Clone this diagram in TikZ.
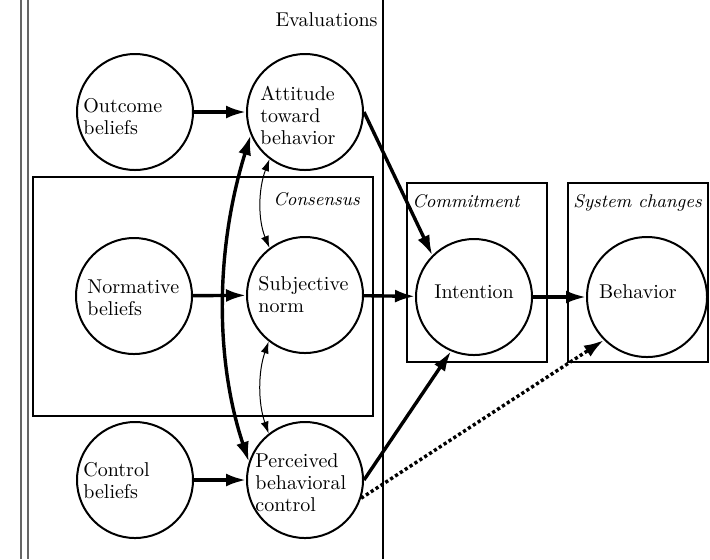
\documentclass[tikz,border=0pt]{standalone}
\usetikzlibrary{arrows.meta}
\begin{document}
\begin{tikzpicture}[x=0.5pt,y=-0.5pt,
  state/.style={circle,draw,line width=1pt,minimum size=58pt,inner sep=0pt},
  caption/.style={align=left,inner sep=0pt,font=\fontsize{10}{11}\selectfont},
  boxlabel/.style={inner sep=0pt,font=\fontsize{9.2}{11}\selectfont\itshape,anchor=base west},
  frame/.style={draw,line width=0.6pt},
  rule/.style={draw=black!60,line width=0.7pt},
  bigarrow/.style={line width=1.7pt,-{Latex[length=10pt,width=6.5pt]}},
  linkarrow/.style={line width=0.5pt,{Latex[length=6pt,width=4pt]}-{Latex[length=6pt,width=4pt]}},
  bothways/.style={line width=1.7pt,{Latex[length=10pt,width=6.5pt]}-{Latex[length=10pt,width=6.5pt]}},
  dottedarrow/.style={line width=1.7pt,dash pattern=on 1.6pt off 1.3pt,-{Latex[length=10pt,width=6.5pt]}}
]
\useasboundingbox (0,0) rectangle (710,559);

% outer rules and group frames
\draw[rule] (21,0) coordinate (l1a) -- (21,559) coordinate (l1b);
\draw[rule] (28,0) coordinate (l2a) -- (28,559) coordinate (l2b);
\draw[frame] (383,0) coordinate (evr) -- (383,559) coordinate (evrb);
\draw[frame] (33,177) rectangle (373,416);
\draw[frame] (407,183) rectangle (547,362);
\draw[frame] (568,183) rectangle (708,362);

% group labels
\node[inner sep=0pt,anchor=base east,font=\fontsize{10}{11}\selectfont] (evl) at (378,26) {Evaluations};
\node[boxlabel] (cons) at (273,205) {Consensus};
\node[boxlabel] (comm) at (412,207) {Commitment};
\node[boxlabel] (sysc) at (573,207) {System changes};

% constructs
\node[state] (out) at (135,112) {};
\node[state] (att) at (305,112) {};
\node[state] (nrm) at (134,296) {};
\node[state] (sub) at (305,295) {};
\node[state] (ctl) at (135,480) {};
\node[state] (per) at (305,480) {};
\node[state] (int) at (474,297) {};
\node[state,minimum size=60pt] (beh) at (647,297) {};

% construct captions
\node[caption,anchor=west] (outT) at (83,117) {Outcome\\beliefs};
\node[caption,anchor=west] (attT) at (260,115) {Attitude\\toward\\behavior};
\node[caption,anchor=west] (nrmT) at (87,298) {Normative\\beliefs};
\node[caption,anchor=west] (subT) at (258,295) {Subjective\\norm};
\node[caption,anchor=west] (ctlT) at (83,481) {Control\\beliefs};
\node[caption,anchor=west] (perT) at (255,483) {Perceived\\behavioral\\control};
\node[caption] (intT) at (474,292) {Intention};
\node[caption] (behT) at (638,292) {Behavior};

% influences
\draw[bigarrow] (out) -- (att);
\draw[bigarrow] (nrm) -- (sub);
\draw[bigarrow] (ctl) -- (per);
\draw[bigarrow] (sub) -- (int);
\draw[bigarrow] (int) -- (beh);
\draw[bigarrow] (att.east) -- (int.north west);
\draw[bigarrow] (per.east) -- (int.247);
\draw[dottedarrow] (per.-18) -- (beh.225);

% correlations among the evaluations
\draw[bothways] (att.203) .. controls (215,250) and (215,360) .. (per.162);
\draw[linkarrow] (att.233) .. controls (258,190) and (258,220) .. (sub.127);
\draw[linkarrow] (sub.232) .. controls (258,372) and (258,403) .. (per.128);
\end{tikzpicture}
\end{document}
